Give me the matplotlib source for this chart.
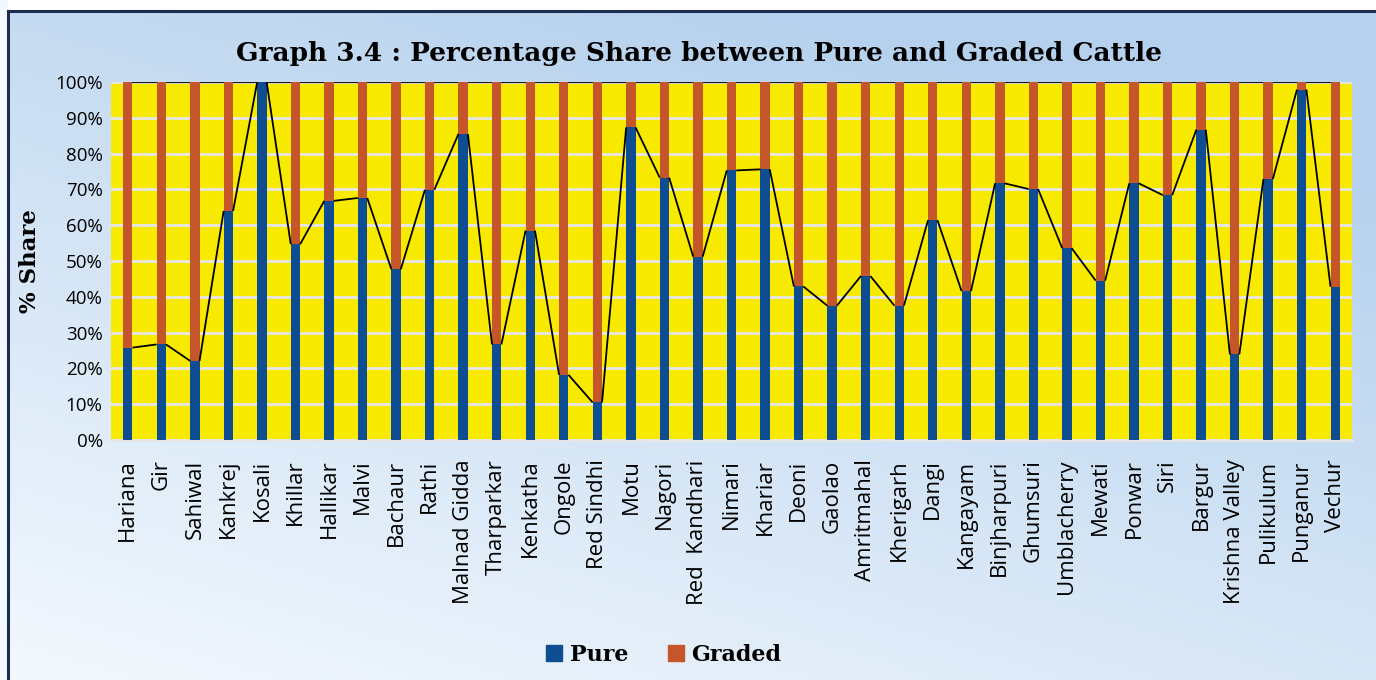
import numpy as np
import matplotlib
matplotlib.use("Agg")
import matplotlib.pyplot as plt
from matplotlib.patches import Rectangle

breeds = ["Hariana", "Gir", "Sahiwal", "Kankrej", "Kosali", "Khillar", "Hallikar",
          "Malvi", "Bachaur", "Rathi", "Malnad Gidda", "Tharparkar", "Kenkatha",
          "Ongole", "Red Sindhi", "Motu", "Nagori", "Red  Kandhari", "Nimari",
          "Khariar", "Deoni", "Gaolao", "Amritmahal", "Kherigarh", "Dangi",
          "Kangayam", "Binjharpuri", "Ghumsuri", "Umblacherry", "Mewati", "Ponwar",
          "Siri", "Bargur", "Krishna Valley", "Pulikulum", "Punganur", "Vechur"]
pure = [25.8, 26.7, 22.1, 64.0, 100.0, 54.7, 66.8, 67.6, 47.7, 69.9, 85.5, 26.7, 58.5,
        18.2, 10.5, 87.3, 73.3, 51.2, 75.3, 75.6, 42.9, 37.5, 45.8, 37.5, 61.4,
        41.6, 71.7, 70.1, 53.6, 44.5, 71.7, 68.4, 86.7, 23.9, 72.9, 97.9, 42.8]
graded = [100.0 - p for p in pure]
yticks = [0, 10, 20, 30, 40, 50, 60, 70, 80, 90, 100]
title = "Graph 3.4 : Percentage Share between Pure and Graded Cattle"

C_PURE = "#0F4D92"
C_GRADED = "#C5562A"
C_PLOT = "#F7EA00"

W, H = 1376, 680
fig = plt.figure(figsize=(W / 100, H / 100), dpi=100)

# background gradient
bg = fig.add_axes([0, 0, 1, 1], zorder=-10)
yy, xx = np.mgrid[0:1:200j, 0:1:400j]   # yy: 0 bottom -> 1 top
t = np.clip(0.45 * xx + 0.75 * yy, 0, 1)
light = np.array([0.955, 0.975, 0.995])
dark = np.array([0.71, 0.82, 0.93])
img = light[None, None, :] * (1 - t[..., None]) + dark[None, None, :] * t[..., None]
bg.imshow(img, origin="lower", extent=[0, 1, 0, 1], aspect="auto")
bg.set_xlim(0, 1); bg.set_ylim(0, 1)
bg.axis("off")
# white margin outside frame (top and left)
bg.add_patch(Rectangle((0, 1 - 10 / H), 1, 10 / H, color="white", zorder=2))
bg.add_patch(Rectangle((0, 0), 7 / W, 1, color="#F2F8FD", zorder=2))
bg.plot([8 / W, 8 / W], [0, 1 - 11 / H], color="#1B2E4F", lw=2.2, zorder=3)
bg.plot([8 / W, 1], [1 - 11 / H, 1 - 11 / H], color="#1B2E4F", lw=2.2, zorder=3)

# main axes
left, right, top, bottom = 111, 1352, 82, 440
ax = fig.add_axes([left / W, 1 - bottom / H, (right - left) / W, (bottom - top) / H])
ax.set_facecolor(C_PLOT)
x = np.arange(len(breeds))
bw = 0.28
ax.bar(x, pure, bw, color=C_PURE, zorder=3, label="Pure")
ax.bar(x, graded, bw, bottom=pure, color=C_GRADED, zorder=3, label="Graded")

# series lines
tops = [p + g for p, g in zip(pure, graded)]
for i in range(len(breeds) - 1):
    ax.plot([x[i] + bw / 2, x[i + 1] - bw / 2], [pure[i], pure[i + 1]],
            color="black", lw=1.3, zorder=4, solid_capstyle="butt")
    ax.plot([x[i] + bw / 2, x[i + 1] - bw / 2], [tops[i], tops[i + 1]],
            color="#1a1a1a", lw=1.6, zorder=4, solid_capstyle="butt")

ax.set_xlim(-0.5, len(breeds) - 0.5)
ax.set_ylim(0, 100)
ax.set_yticks(yticks)
ax.set_yticklabels([f"{v}%" for v in yticks], fontfamily="Open Sans", fontsize=13.5)
ax.yaxis.grid(True, color="#E6E6E6", lw=2, zorder=1)
ax.set_axisbelow(True)
ax.set_xticks(x)
ax.set_xticklabels(breeds, rotation=90, fontfamily="Open Sans", fontsize=16)
ax.tick_params(axis="both", length=0)
ax.tick_params(axis="x", pad=14)
ax.tick_params(axis="y", pad=6)
for s in ["top", "right", "left"]:
    ax.spines[s].set_visible(False)
ax.spines["bottom"].set_color("#E6E6E6")
ax.spines["bottom"].set_linewidth(2)

ax.set_ylabel("% Share", fontfamily="DejaVu Serif", fontweight="bold", fontsize=16.5,
              labelpad=10)

fig.text(699 / W, 1 - 54 / H, title, ha="center", va="center",
         fontfamily="DejaVu Serif", fontweight="bold", fontsize=19)

handles = [Rectangle((0, 0), 1, 1, color=C_PURE), Rectangle((0, 0), 1, 1, color=C_GRADED)]
fig.legend(handles, ["Pure", "Graded"], loc="center", bbox_to_anchor=(664 / W, 1 - 655 / H),
           ncol=2, frameon=False, handlelength=0.7, handleheight=0.7, handletextpad=0.35,
           columnspacing=1.8, prop={"family": "DejaVu Serif", "weight": "bold", "size": 16})

fig.savefig("out.png", dpi=100)
